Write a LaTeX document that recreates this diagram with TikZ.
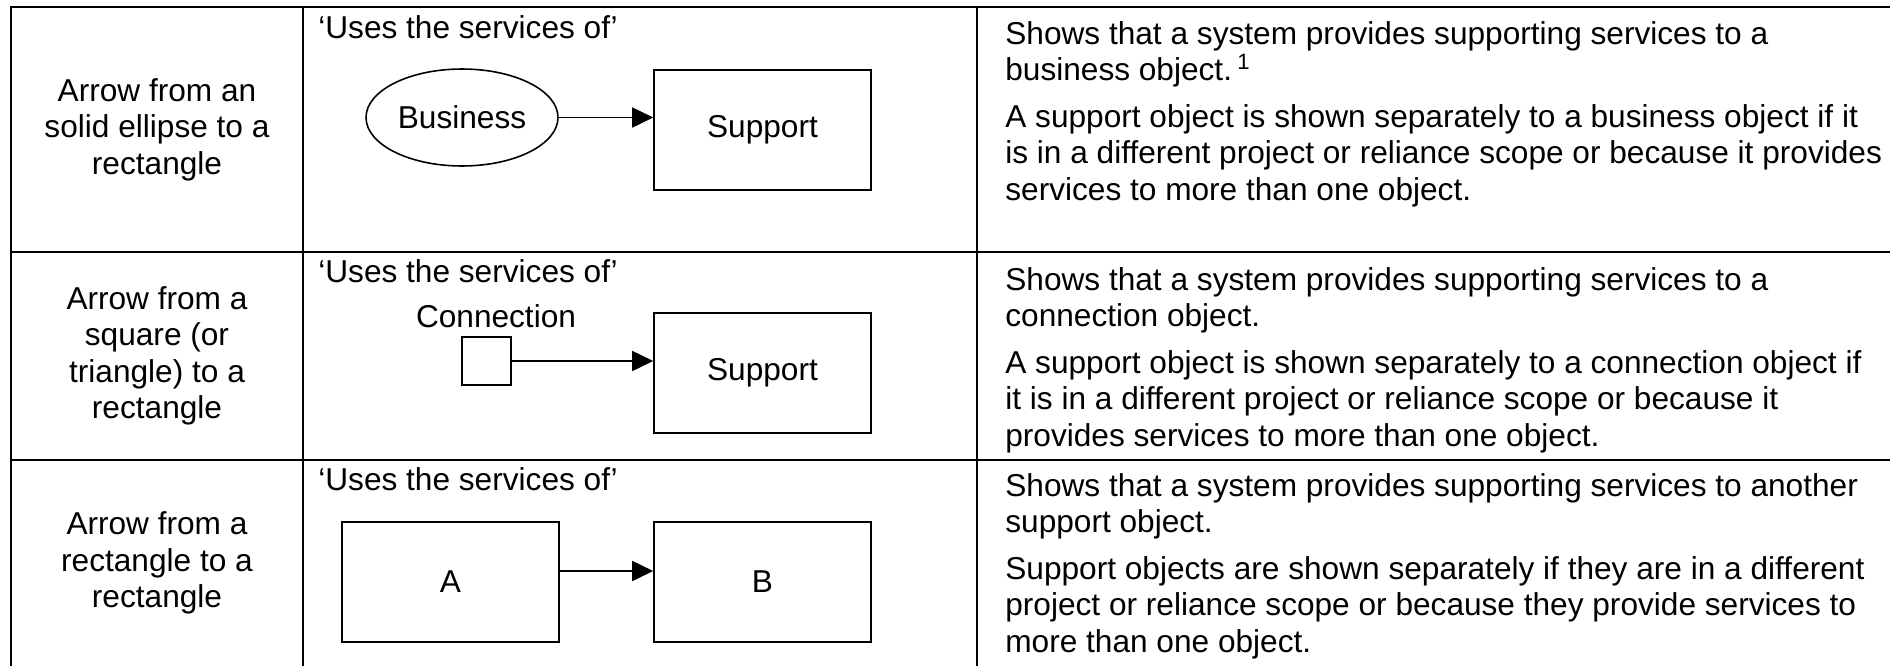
\documentclass[tikz,border=0pt]{standalone}
\usepackage{xcolor}
\usepackage{fontspec}
\setmainfont{Liberation Sans}
\usepackage{tikz}
\usetikzlibrary{arrows.meta,shapes.geometric}

\begin{document}
\begin{tikzpicture}[x=0.02cm,y=-0.02cm,
  every node/.style={font=\fontsize{18}{20.7}\selectfont},
  grid/.style={line width=1.4pt},
  obj/.style={draw,line width=0.9pt,minimum width=4.34cm,minimum height=2.4cm,inner sep=0pt},
  oval/.style={draw,ellipse,line width=0.9pt,minimum width=3.84cm,minimum height=1.94cm,inner sep=0pt},
  sq/.style={draw,line width=0.9pt,minimum size=0.97cm,inner sep=0pt},
  uses/.style={line width=0.9pt,-{Triangle[length=4.2mm,width=4mm]}},
  txt/.style={inner sep=0pt,anchor=base west,align=left},
  kind/.style={inner sep=0pt,align=center}]
\useasboundingbox (0,0) rectangle (1890,666);
\draw[grid] (11,666) |- (1890,7);
\draw[grid] (11,252) -- (1890,252);
\draw[grid] (11,460) -- (1890,460);
\draw[grid] (303,7) -- (303,666);
\draw[grid] (977,7) -- (977,666);

\node[kind] (kind1) at (157,129.5) {Arrow from an\\solid ellipse to a\\rectangle};
\node[kind] (kind2) at (157,356) {Arrow from a\\square (or\\triangle) to a\\rectangle};
\node[kind] (kind3) at (157,563) {Arrow from a\\rectangle to a\\rectangle};

\node[txt] (uses1) at (318,38) {‘Uses the services of’};
\node[oval] (business) at (462,117.5) {Business};
\node[obj] (support1) at (762.5,130) {Support};
\draw[uses] (business.east) -- (business.east -| support1.west);

\node[txt] (uses2) at (318,282) {‘Uses the services of’};
\node[inner sep=0pt,anchor=base] (connlabel) at (496,327) {Connection};
\node[sq] (conn) at (486.5,361) {};
\node[obj] (support2) at (762.5,373) {Support};
\draw[uses] (conn.east) -- (conn.east -| support2.west);

\node[txt] (uses3) at (318,490) {‘Uses the services of’};
\node[obj] (boxa) at (450.5,582) {A};
\node[obj] (boxb) at (762.5,582) {B};
\draw[uses] ([yshift=2.2mm]boxa.east) -- ([yshift=2.2mm]boxb.west);

\node[txt] (desc1) at (1005,200) {Shows that a system provides supporting services to a\\
business object.\,\textsuperscript{1}\\[0.2cm]
A support object is shown separately to a business object if it\\
is in a different project or reliance scope or because it provides\\
services to more than one object.};
\node[txt] (desc2) at (1005,446) {Shows that a system provides supporting services to a\\
connection object.\\[0.2cm]
A support object is shown separately to a connection object if\\
it is in a different project or reliance scope or because it\\
provides services to more than one object.};
\node[txt] (desc3) at (1005,652) {Shows that a system provides supporting services to another\\
support object.\\[0.2cm]
Support objects are shown separately if they are in a different\\
project or reliance scope or because they provide services to\\
more than one object.};
\end{tikzpicture}
\end{document}
